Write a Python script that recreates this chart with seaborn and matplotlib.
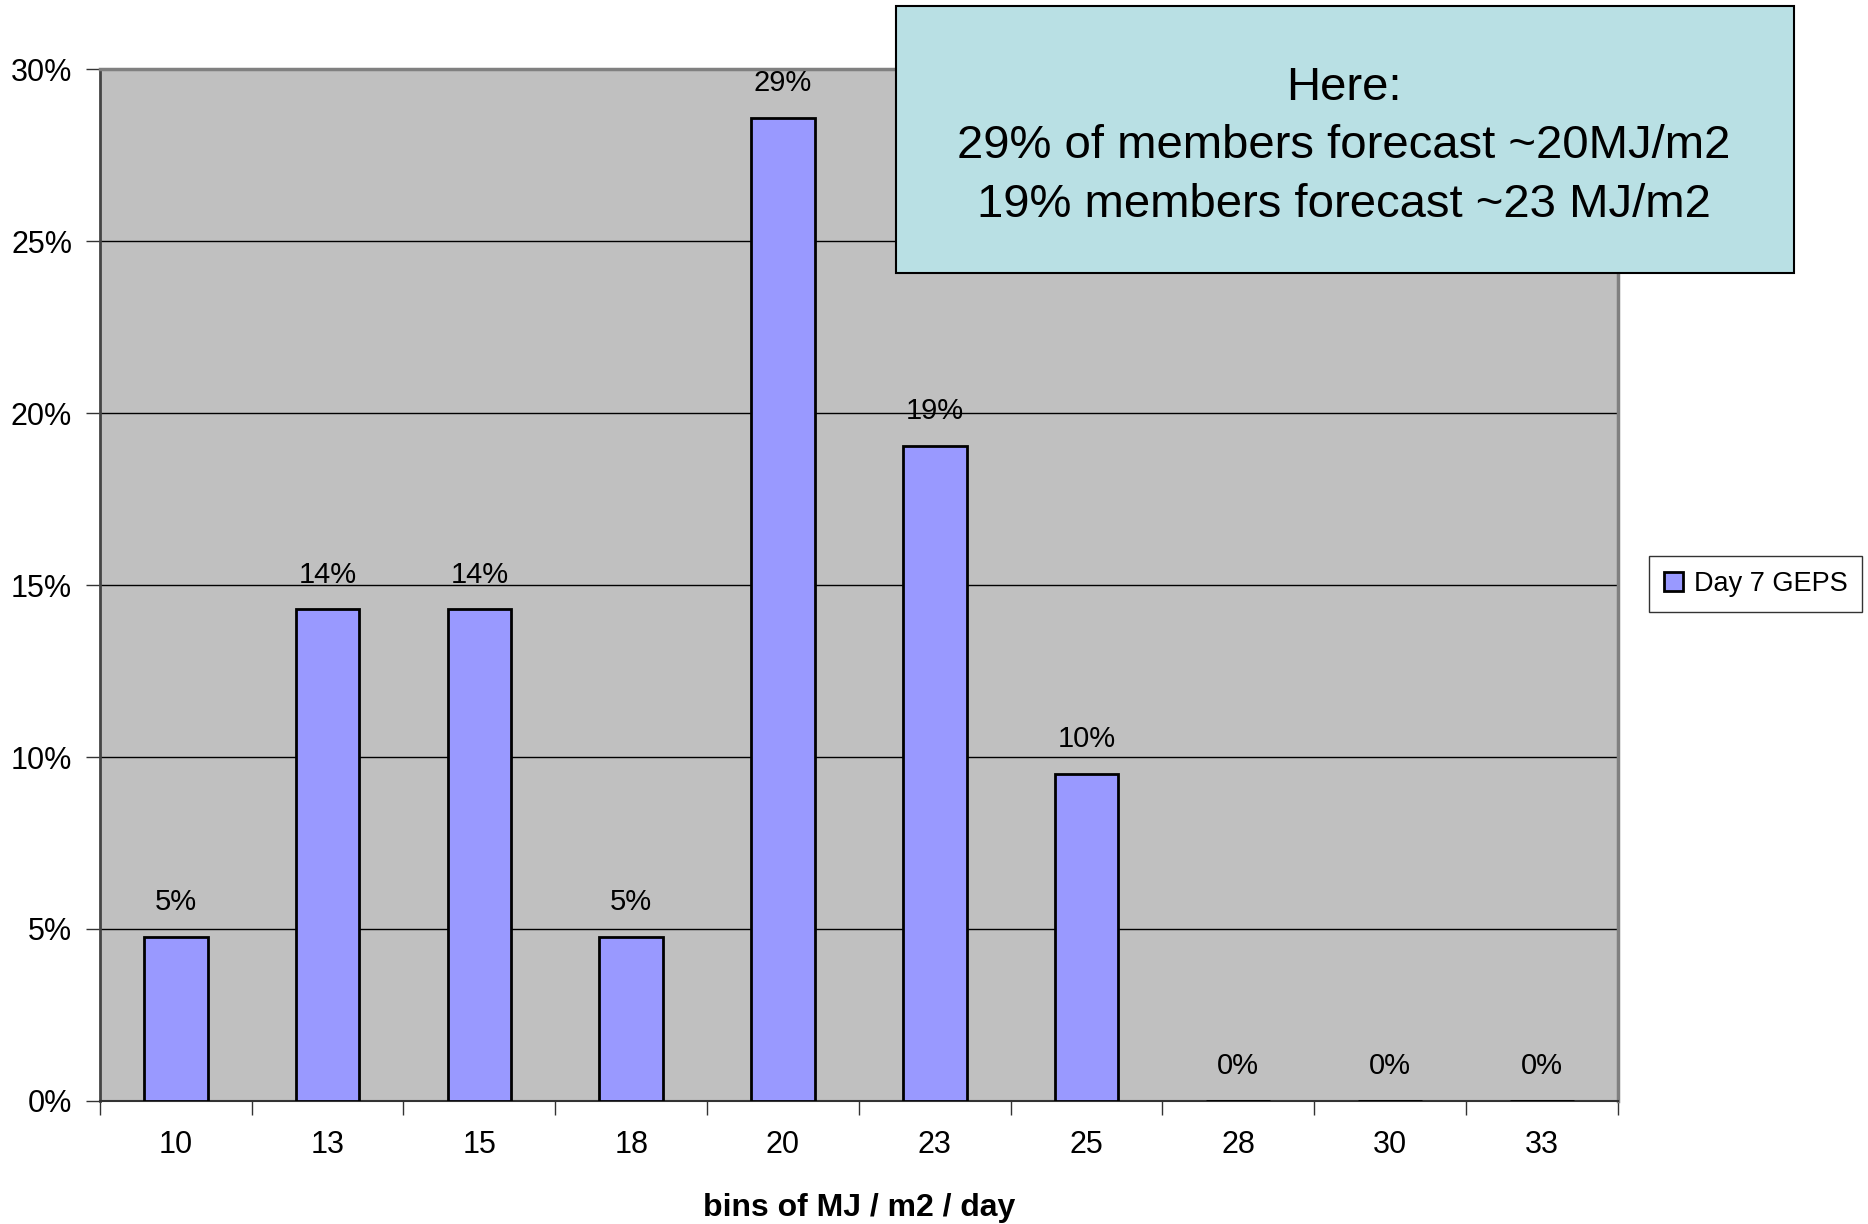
import numpy as np
import pandas as pd
import matplotlib
matplotlib.use("Agg")
import matplotlib.pyplot as plt
import seaborn as sns
from matplotlib.patches import Rectangle

# data
bins = ["10", "13", "15", "18", "20", "23", "25", "28", "30", "33"]
share = [4.76, 14.29, 14.29, 4.76, 28.57, 19.05, 9.52, 0.0, 0.0, 0.0]  # percent of members
series_name = "Day 7 GEPS"
note_lines = ["Here:",
              "29% of members forecast ~20MJ/m2",
              "19% members forecast ~23 MJ/m2"]

sns.set_style("white")
plt.rcParams["font.family"] = ["Liberation Sans", "DejaVu Sans"]
plt.rcParams["text.color"] = "black"
plt.rcParams["axes.labelcolor"] = "black"
plt.rcParams["xtick.color"] = "black"
plt.rcParams["ytick.color"] = "black"

df = pd.DataFrame({"bin": bins, "share": share})

fig = plt.figure(figsize=(18.68, 12.24), dpi=100)
ax = fig.add_axes([0.0535, 0.1005, 0.8125, 0.8431])

sns.barplot(data=df, x="bin", y="share", order=bins, color="#9999ff",
            saturation=1, width=0.42, edgecolor="black", linewidth=2,
            label=series_name, ax=ax, zorder=3)

ax.set_facecolor("#c0c0c0")
ax.set_xlim(-0.5, len(bins) - 0.5)
ax.set_ylim(0, 30)
ax.set_yticks(np.arange(0, 31, 5))
ax.set_yticklabels([f"{v}%" for v in range(0, 31, 5)])
ax.yaxis.grid(True, color="black", linewidth=1)
ax.set_axisbelow(True)

# category boundaries carry the tick marks, labels sit in the middle
ax.set_xticks(np.arange(-0.5, len(bins), 1.0), minor=True)
ax.tick_params(axis="x", which="major", length=0, pad=21, labelsize=22,
               labelcolor="black")
ax.tick_params(axis="x", which="minor", length=10, width=1, color="#333333",
               direction="out", bottom=True)
ax.tick_params(axis="y", length=10, width=1, color="#333333", direction="out",
               left=True, pad=10, labelsize=22, labelcolor="black")

for side in ["top", "right"]:
    ax.spines[side].set_color("#808080")
    ax.spines[side].set_linewidth(2.5)
ax.spines["left"].set_color("#444444")
ax.spines["left"].set_linewidth(2)
ax.spines["bottom"].set_color("#333333")
ax.spines["bottom"].set_linewidth(1.5)

ax.bar_label(ax.containers[0], labels=[f"{v:.0f}%" for v in share],
             padding=15, fontsize=21, color="black")

ax.set_xlabel("bins of MJ / m2 / day", fontsize=23, fontweight="bold",
              labelpad=24, color="black")
ax.set_ylabel("")

if ax.get_legend() is not None:
    ax.get_legend().remove()
handles, labels = ax.get_legend_handles_labels()
leg = fig.legend(handles, labels, loc="center left",
                 bbox_to_anchor=(0.8755, 0.523), fontsize=19.5,
                 frameon=True, fancybox=False, edgecolor="black",
                 handlelength=0.7, handleheight=0.7, handletextpad=0.4,
                 borderpad=0.55, labelcolor="black")
leg.get_frame().set_linewidth(1)

# note box laid over the top right of the chart
fig.patches.append(Rectangle((0.4797, 0.777), 0.4807, 0.218,
                             transform=fig.transFigure, facecolor="#b9e0e4",
                             edgecolor="black", linewidth=1.5, zorder=10))
fig.text(0.7195, 0.8805, "\n".join(note_lines), ha="center", va="center",
         fontsize=34, linespacing=1.42, color="black", zorder=11)

fig.savefig("out.png", dpi=100)
